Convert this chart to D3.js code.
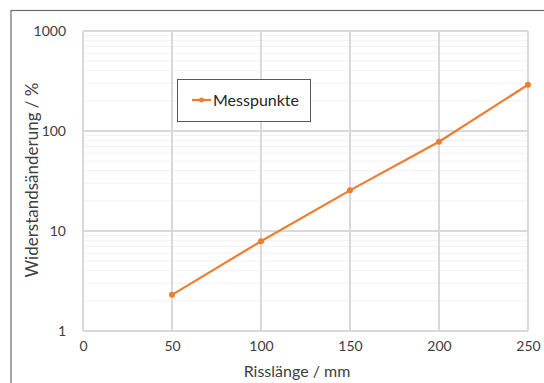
<!DOCTYPE html>
<html><head><meta charset="utf-8">
<script src="https://cdn.jsdelivr.net/npm/d3@7"></script>
<style>body{margin:0;background:#fff;}svg{display:block;}</style>
</head><body>
<script>
const xValues = [50, 100, 150, 200, 250];
const yValues = [2.3, 7.9, 25.5, 78, 290];
const seriesName = "Messpunkte";
const xTicks = [0, 50, 100, 150, 200, 250];
const yTicks = [1, 10, 100, 1000];
const xTitle = "Risslänge / mm";
const yTitle = "Widerstandsänderung / %";

const W = 544, H = 383;
const font = "Lato, 'Open Sans', sans-serif";
const svg = d3.select("body").append("svg").attr("width", W).attr("height", H);

// outer frame
svg.append("rect").attr("x", 11).attr("y", 10.5).attr("width", W).attr("height", H)
  .attr("fill", "none").attr("stroke", "#6b6b6b").attr("stroke-width", 1.2);

const x = d3.scaleLinear().domain([0, 250]).range([83, 528]);
const y = d3.scaleLog().domain([1, 1000]).range([331, 31]);

const g = svg.append("g");
// minor horizontal gridlines
const minor = [];
for (let d = 1; d < 1000; d *= 10) for (let k = 2; k <= 9; k++) minor.push(d * k);
g.selectAll(".minor").data(minor).enter().append("line")
  .attr("x1", x(0)).attr("x2", x(250)).attr("y1", d => y(d)).attr("y2", d => y(d))
  .attr("stroke", "#f2f2f2").attr("stroke-width", 1);
// major horizontal
g.selectAll(".hmaj").data(yTicks).enter().append("line")
  .attr("x1", x(0)).attr("x2", x(250)).attr("y1", d => y(d)).attr("y2", d => y(d))
  .attr("stroke", "#d9d9d9").attr("stroke-width", 2);
// vertical
g.selectAll(".vmaj").data(xTicks).enter().append("line")
  .attr("x1", d => x(d)).attr("x2", d => x(d)).attr("y1", y(1000)).attr("y2", y(1))
  .attr("stroke", "#d9d9d9").attr("stroke-width", 2);

// axes (labels only)
const xAxis = d3.axisBottom(x).tickValues(xTicks).tickSize(0).tickPadding(0).tickFormat(d3.format("d"));
const xa = svg.append("g").attr("transform", `translate(0,${y(1) + 20})`).call(xAxis);
xa.select(".domain").remove();
xa.selectAll("text").attr("font-family", font).attr("font-size", 14).attr("fill", "#404040").attr("dy", "0");

const yAxis = d3.axisLeft(y).tickValues(yTicks).tickSize(0).tickPadding(0).tickFormat(d3.format("d"));
const ya = svg.append("g").attr("transform", `translate(66,0)`).call(yAxis);
ya.select(".domain").remove();
ya.selectAll("text").attr("font-family", font).attr("font-size", 14).attr("fill", "#404040");

// titles
svg.append("text").attr("x", 297).attr("y", 377).attr("text-anchor", "middle")
  .attr("font-family", font).attr("font-size", 16).attr("fill", "#404040").text(xTitle);
svg.append("text").attr("transform", "translate(38,180) rotate(-90)").attr("text-anchor", "middle")
  .attr("font-family", font).attr("font-size", 17).attr("fill", "#404040").text(yTitle);

// series
const color = "#ED7D31";
const pts = xValues.map((v, i) => [v, yValues[i]]);
svg.append("path").datum(pts)
  .attr("d", d3.line().x(d => x(d[0])).y(d => y(d[1])))
  .attr("fill", "none").attr("stroke", color).attr("stroke-width", 2.2);
svg.selectAll(".pt").data(pts).enter().append("circle")
  .attr("cx", d => x(d[0])).attr("cy", d => y(d[1])).attr("r", 3).attr("fill", color);

// legend
const lg = svg.append("g");
lg.append("rect").attr("x", 177.5).attr("y", 79.5).attr("width", 133).attr("height", 42)
  .attr("fill", "#fff").attr("stroke", "#595959").attr("stroke-width", 1);
lg.append("line").attr("x1", 192).attr("x2", 211).attr("y1", 100).attr("y2", 100)
  .attr("stroke", color).attr("stroke-width", 2.2);
lg.append("circle").attr("cx", 201.5).attr("cy", 100).attr("r", 2.5).attr("fill", color);
lg.append("text").attr("x", 213).attr("y", 106).attr("font-family", font).attr("font-size", 16)
  .attr("fill", "#262626").text(seriesName);
</script>
</body></html>
